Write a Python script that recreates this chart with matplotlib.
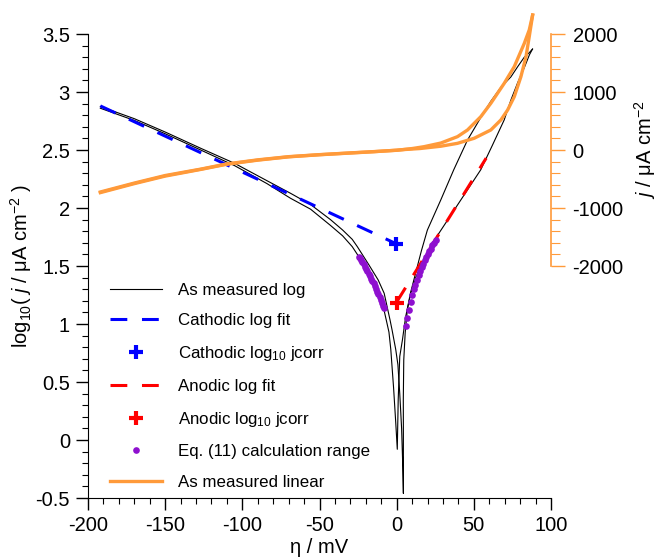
import matplotlib
matplotlib.use('Agg')
import matplotlib.pyplot as plt
from matplotlib.ticker import MultipleLocator, FixedLocator, FuncFormatter
from matplotlib.lines import Line2D

plt.rcParams['font.family'] = ['Liberation Sans', 'DejaVu Sans']
plt.rcParams['mathtext.fontset'] = 'custom'
plt.rcParams['mathtext.rm'] = 'Liberation Sans'
plt.rcParams['mathtext.it'] = 'Liberation Sans:italic'
plt.rcParams['mathtext.bf'] = 'Liberation Sans:bold'
plt.rcParams['axes.unicode_minus'] = False

# ---------------- data ----------------
# forward sweep, log10 |j|
eta_fwd = [-192, -170, -150, -127, -105, -84, -68.8, -55.8, -42.9, -35, -28.8, -24.5, -20, -16,
           -12, -8.2, -6.5, -5, -3.8, -2.0, -0.6, 0.4, 1.0, 2.0, 3.7, 5.8, 9.0, 12.3, 16.0,
           19.9, 28.6, 37, 45.9, 54.5, 61, 67.5, 74, 78.5, 82.7, 86, 88]
logj_fwd = [2.86, 2.755, 2.64, 2.50, 2.365, 2.21, 2.084, 1.99, 1.85, 1.76, 1.667, 1.58, 1.49, 1.39,
            1.265, 1.12, 1.02, 0.93, 0.78, 0.45, 0.15, -0.08, 0.35, 0.72, 0.86, 1.06, 1.27, 1.44, 1.63,
            1.81, 2.07, 2.33, 2.586, 2.78, 2.92, 3.04, 3.13, 3.22, 3.30, 3.34, 3.37]
# reverse sweep, log10 |j|
eta_rev = [88, 86, 84.5, 82.7, 78.4, 74, 69.7, 62, 54.5, 41.6, 24.3, 18, 12.3, 9, 6.9, 5.5,
           4.6, 4.3, 4.35, 4.35, 3.9, 3.2, 2.0, 0.8, -0.6, -3.0, -4.3, -8.1, -12, -18, -25.5,
           -28.8, -35, -42.9, -55.8, -68.8, -84, -105, -127, -150, -170, -192]
logj_rev = [3.37, 3.32, 3.27, 3.21, 3.08, 2.93, 2.76, 2.54, 2.33, 2.07, 1.72, 1.57, 1.40, 1.26, 1.12, 0.92,
            0.69, 0.35, 0.06, -0.46, -0.2, 0.1, 0.4, 0.65, 0.78, 0.95, 1.035, 1.265, 1.38, 1.51, 1.667,
            1.73, 1.81, 1.90, 2.03, 2.127, 2.235, 2.385, 2.515, 2.655, 2.77, 2.875]

# Tafel fits and jcorr
cath_fit_eta = [-192, 0]
cath_fit_logj = [2.88, 1.69]
cath_jcorr = (-0.5, 1.69)
anod_fit_eta = [0, 58]
anod_fit_logj = [1.19, 2.43]
anod_jcorr = (0.4, 1.18)

# Eq. (11) calculation range
eq11_eta = [-24.5, -23.8, -23.0, -22.2, -21.4, -20.6, -19.8, -19.0, -18.2, -17.4, -16.6,
            -15.8, -15.0, -14.2, -13.4, -12.6, -11.8, -11.0, -10.2, -9.5, -8.8, -8.2,
            5.8, 6.9, 8.0, 9.1, 10.2, 11.2, 12.2, 13.2, 14.2, 15.2, 16.2, 17.2, 18.2,
            19.2, 20.2, 21.2, 22.2, 23.2, 24.2, 25.3]
eq11_logj = [1.58, 1.565, 1.55, 1.535, 1.515, 1.495, 1.475, 1.455, 1.435, 1.415, 1.39,
             1.37, 1.35, 1.325, 1.30, 1.28, 1.255, 1.23, 1.205, 1.18, 1.155, 1.135,
             0.98, 1.05, 1.12, 1.19, 1.25, 1.30, 1.34, 1.38, 1.42, 1.46, 1.49, 1.52, 1.55,
             1.58, 1.60, 1.63, 1.65, 1.68, 1.70, 1.72]

# linear current density (right axis), forward and reverse
lin_eta_fwd = [-192, -170, -150, -127, -110, -90, -70, -50, -30, -15, 0, 10, 17.7, 28.6,
               39.4, 45.9, 54.5, 61, 69.7, 76.2, 82.7, 85.9, 88.1]
lin_j_fwd = [-724, -570, -440, -330, -240, -170, -115, -80, -50, -28, -5, 25, 57, 120,
             230, 345, 574, 805, 1150, 1437, 1839, 2069, 2327]
lin_eta_rev = [88.1, 85.9, 83.8, 80.5, 76.2, 71.9, 67.5, 61, 50.2, 39.4, 28.6, 15, 5, 0,
               -15, -30, -50, -70, -90, -110, -127, -150, -170, -192]
lin_j_rev = [2327, 1954, 1609, 1264, 919, 690, 517, 345, 202, 115, 65, 25, 8, -3,
             -30, -52, -82, -118, -175, -245, -335, -450, -580, -735]

labels = ['As measured log', 'Cathodic log fit', 'Cathodic log$_{10}$ jcorr',
          'Anodic log fit', 'Anodic log$_{10}$ jcorr', 'Eq. (11) calculation range',
          'As measured linear']

ORANGE = '#FF9A3A'
BLUE = '#0000FF'
RED = '#FF0000'
PURPLE = '#8E10CF'
FS = 14.5

fig = plt.figure(figsize=(6.57, 5.59), dpi=100)
ax = fig.add_axes([88/657, 1-498/559, 463/657, 464/559])
ax.set_xlim(-200, 100)
ax.set_ylim(-0.5, 3.5)
for s in ['top', 'right']:
    ax.spines[s].set_visible(False)

ax.plot(eta_fwd, logj_fwd, color='black', lw=0.8, zorder=2)
ax.plot(eta_rev, logj_rev, color='black', lw=0.8, zorder=2)
ax.plot(cath_fit_eta, cath_fit_logj, color=BLUE, lw=2.2, dashes=(5.5, 4.8), zorder=3)
ax.plot([cath_jcorr[0]], [cath_jcorr[1]], '+', color=BLUE, ms=10, mew=3, zorder=5)
ax.plot(anod_fit_eta, anod_fit_logj, color=RED, lw=2.2, dashes=(5.5, 4.8), zorder=3)
ax.plot([anod_jcorr[0]], [anod_jcorr[1]], '+', color=RED, ms=10, mew=3, zorder=5)
ax.plot(eq11_eta, eq11_logj, 'o', color=PURPLE, ms=4.8, mec='none', zorder=4)

ax.xaxis.set_major_locator(MultipleLocator(50))
ax.xaxis.set_minor_locator(MultipleLocator(10))
ax.yaxis.set_major_locator(MultipleLocator(0.5))
ax.yaxis.set_minor_locator(MultipleLocator(0.1))
fmt = FuncFormatter(lambda v, p: ('%g' % round(v, 3)))
ax.xaxis.set_major_formatter(fmt)
ax.yaxis.set_major_formatter(fmt)
ax.tick_params(which='major', direction='out', length=8.5, width=1, labelsize=FS)
ax.tick_params(axis='x', which='major', pad=4.5)
ax.tick_params(axis='y', which='major', pad=4.5)
ax.tick_params(which='minor', direction='out', length=4.3, width=0.8)
ax.set_xlabel('η / mV', fontsize=FS, labelpad=2)
ax.set_ylabel(r'log$_{10}$( $j$ / μA cm$^{-2}$ )', fontsize=FS, labelpad=1)

ax2 = ax.twinx()
ax2.set_ylim(-6000, 2000)
for s in ['top', 'left', 'bottom']:
    ax2.spines[s].set_visible(False)
ax2.spines['right'].set_color(ORANGE)
ax2.spines['right'].set_bounds(-2000, 2000)
ax2.spines['right'].set_linewidth(1.2)
ax2.yaxis.set_major_locator(FixedLocator([-2000, -1000, 0, 1000, 2000]))
ax2.yaxis.set_minor_locator(FixedLocator([v for v in range(-2000, 2001, 200) if v % 1000]))
ax2.yaxis.set_major_formatter(FuncFormatter(lambda v, p: '%d' % v))
ax2.tick_params(which='major', direction='out', length=10, width=1, color=ORANGE,
                labelsize=FS, pad=5.5)
ax2.tick_params(which='minor', direction='out', length=6.5, width=0.8, color=ORANGE)
ax2.plot(lin_eta_fwd, lin_j_fwd, color=ORANGE, lw=2.4, clip_on=False, zorder=3)
ax2.plot(lin_eta_rev, lin_j_rev, color=ORANGE, lw=2.4, clip_on=False, zorder=3)
ax2.set_ylabel(r'$j$ / μA cm$^{-2}$', fontsize=FS)
ax2.yaxis.set_label_coords(1.175, 0.75)

handles = [
    Line2D([], [], color='black', lw=0.8),
    Line2D([], [], color=BLUE, lw=2.2, dashes=(5.5, 4.8)),
    Line2D([], [], color=BLUE, marker='+', ls='none', ms=10, mew=3),
    Line2D([], [], color=RED, lw=2.2, dashes=(5.5, 4.8)),
    Line2D([], [], color=RED, marker='+', ls='none', ms=10, mew=3),
    Line2D([], [], color=PURPLE, marker='o', ls='none', ms=4.8, mec='none'),
    Line2D([], [], color=ORANGE, lw=2.4),
]
ax2.legend(handles, labels, loc='upper left', bbox_to_anchor=(110/657, 1-282.5/559),
           bbox_transform=fig.transFigure, frameon=False, fontsize=12.2,
           handlelength=3.07, handletextpad=0.94, labelspacing=0.93, borderpad=0,
           borderaxespad=0, numpoints=1)

fig.savefig('out.png', dpi=100)
